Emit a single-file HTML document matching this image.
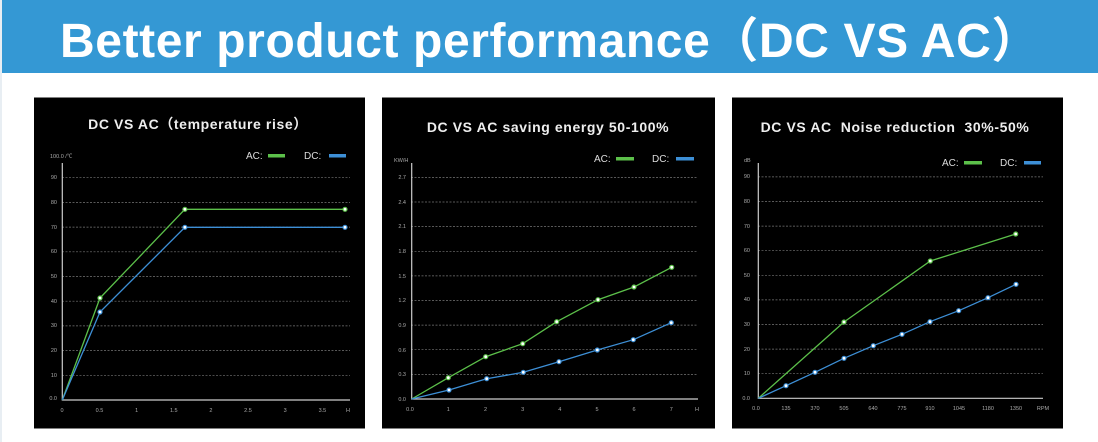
<!DOCTYPE html>
<html><head><meta charset="utf-8"><style>
html,body{margin:0;padding:0;background:#fff;width:1098px;height:442px;overflow:hidden}
svg{display:block}
text{font-family:"Liberation Sans","Noto Sans CJK SC",sans-serif}
.t{font-weight:bold;font-size:14px;fill:#eee;text-anchor:middle;letter-spacing:0.6px}
.k{font-size:5.5px;fill:#aaa}
.kr{font-size:5.5px;fill:#aaa;text-anchor:end}
.km{font-size:5.5px;fill:#aaa;text-anchor:middle}
.lg{font-size:10px;fill:#ddd}
.g line{stroke:#777;stroke-width:0.7;stroke-dasharray:2 1.5}
.ax{stroke:#ccc;stroke-width:1.2;fill:none}
.ac{stroke:#5cc04a;stroke-width:1.3;fill:none}
.dc{stroke:#3d8fd6;stroke-width:1.3;fill:none}
.pa circle{fill:#fff;stroke:#5cc04a;stroke-width:1.2}
.pd circle{fill:#fff;stroke:#3d8fd6;stroke-width:1.2}
</style></head><body>
<svg width="1098" height="442" viewBox="0 0 1098 442">
<rect x="0" y="0" width="1098" height="73" fill="#3498d4"/>
<rect x="0" y="0" width="2" height="442" fill="#e8eef3"/>
<text x="550" y="57" text-anchor="middle" style="font-weight:bold;font-size:48px;fill:#fff;letter-spacing:0.6px">Better product performance（DC VS AC）</text>

<!-- Panel 1 -->
<rect x="34" y="97.5" width="331" height="331" fill="#000"/>
<text class="t" x="198" y="129">DC VS AC（temperature rise）</text>
<text class="lg" x="246" y="159">AC:</text><rect x="268" y="154" width="17" height="3.5" fill="#5cc04a"/>
<text class="lg" x="304" y="159">DC:</text><rect x="329" y="154" width="17" height="3.5" fill="#3d8fd6"/>
<text class="k" x="50" y="158">100.0 /℃</text>
<g class="g"><line x1="62" x2="350" y1="375.3" y2="375.3"/><line x1="62" x2="350" y1="350.6" y2="350.6"/><line x1="62" x2="350" y1="325.9" y2="325.9"/><line x1="62" x2="350" y1="301.2" y2="301.2"/><line x1="62" x2="350" y1="276.5" y2="276.5"/><line x1="62" x2="350" y1="251.8" y2="251.8"/><line x1="62" x2="350" y1="227.1" y2="227.1"/><line x1="62" x2="350" y1="202.4" y2="202.4"/><line x1="62" x2="350" y1="177.7" y2="177.7"/></g>
<text class="kr" x="57" y="400">0.0</text><text class="kr" x="57" y="377">10</text><text class="kr" x="57" y="352">20</text><text class="kr" x="57" y="327">30</text><text class="kr" x="57" y="303">40</text><text class="kr" x="57" y="278">50</text><text class="kr" x="57" y="253">60</text><text class="kr" x="57" y="229">70</text><text class="kr" x="57" y="204">80</text><text class="kr" x="57" y="179">90</text>
<path class="ax" d="M62.3,163 V400 H350"/>
<text class="km" x="62" y="412">0</text><text class="km" x="99.5" y="412">0.5</text><text class="km" x="136.6" y="412">1</text><text class="km" x="173.8" y="412">1.5</text><text class="km" x="210.9" y="412">2</text><text class="km" x="248" y="412">2.5</text><text class="km" x="285.2" y="412">3</text><text class="km" x="322.4" y="412">3.5</text><text class="km" x="348" y="412">H</text>
<polyline class="ac" points="62.3,400 100,298 184.9,209.3 345,209.3"/>
<polyline class="dc" points="62.3,400 100,312 184.9,227.3 345,227.3"/>
<g class="pa"><circle cx="100" cy="298" r="2"/><circle cx="184.9" cy="209.3" r="2"/><circle cx="345" cy="209.3" r="2"/></g>
<g class="pd"><circle cx="100" cy="312" r="2"/><circle cx="184.9" cy="227.3" r="2"/><circle cx="345" cy="227.3" r="2"/></g>

<!-- Panel 2 -->
<rect x="382" y="97.5" width="333" height="331" fill="#000"/>
<text class="t" x="548" y="132">DC VS AC saving energy 50-100%</text>
<text class="lg" x="594" y="162">AC:</text><rect x="616" y="157" width="18" height="3.5" fill="#5cc04a"/>
<text class="lg" x="652" y="162">DC:</text><rect x="676" y="157" width="18" height="3.5" fill="#3d8fd6"/>
<text class="k" x="394" y="162">KW/H</text>
<g class="g"><line x1="411" x2="698" y1="374.4" y2="374.4"/><line x1="411" x2="698" y1="349.7" y2="349.7"/><line x1="411" x2="698" y1="325.1" y2="325.1"/><line x1="411" x2="698" y1="300.5" y2="300.5"/><line x1="411" x2="698" y1="275.9" y2="275.9"/><line x1="411" x2="698" y1="251.3" y2="251.3"/><line x1="411" x2="698" y1="226.6" y2="226.6"/><line x1="411" x2="698" y1="202" y2="202"/><line x1="411" x2="698" y1="177.4" y2="177.4"/></g>
<text class="kr" x="406" y="401">0.0</text><text class="kr" x="406" y="376">0.3</text><text class="kr" x="406" y="352">0.6</text><text class="kr" x="406" y="327">0.9</text><text class="kr" x="406" y="302">1.2</text><text class="kr" x="406" y="278">1.5</text><text class="kr" x="406" y="253">1.8</text><text class="kr" x="406" y="228">2.1</text><text class="kr" x="406" y="204">2.4</text><text class="kr" x="406" y="179">2.7</text>
<path class="ax" d="M411.7,163 V399 H698"/>
<text class="km" x="410" y="411">0.0</text><text class="km" x="448.3" y="411">1</text><text class="km" x="485.5" y="411">2</text><text class="km" x="522.7" y="411">3</text><text class="km" x="559.8" y="411">4</text><text class="km" x="597" y="411">5</text><text class="km" x="634" y="411">6</text><text class="km" x="671.3" y="411">7</text><text class="km" x="697" y="411">H</text>
<polyline class="ac" points="411.7,399 448.3,377.7 485.7,356.7 522.7,343.7 556.7,321.7 598,299.7 634,287 671.7,267.3"/>
<polyline class="dc" points="411.7,399 449,390 486.7,378.7 523.3,372.3 559,361.7 597.3,350 633.3,339.7 671.3,322.7"/>
<g class="pa"><circle cx="448.3" cy="377.7" r="2"/><circle cx="485.7" cy="356.7" r="2"/><circle cx="522.7" cy="343.7" r="2"/><circle cx="556.7" cy="321.7" r="2"/><circle cx="598" cy="299.7" r="2"/><circle cx="634" cy="287" r="2"/><circle cx="671.7" cy="267.3" r="2"/></g>
<g class="pd"><circle cx="449" cy="390" r="2"/><circle cx="486.7" cy="378.7" r="2"/><circle cx="523.3" cy="372.3" r="2"/><circle cx="559" cy="361.7" r="2"/><circle cx="597.3" cy="350" r="2"/><circle cx="633.3" cy="339.7" r="2"/><circle cx="671.3" cy="322.7" r="2"/></g>

<!-- Panel 3 -->
<rect x="732" y="97.5" width="331" height="331" fill="#000"/>
<text class="t" x="895" y="132" style="white-space:pre">DC VS AC  Noise reduction  30%-50%</text>
<text class="lg" x="942" y="166">AC:</text><rect x="964" y="161" width="18" height="3.5" fill="#5cc04a"/>
<text class="lg" x="1000" y="166">DC:</text><rect x="1024" y="161" width="17" height="3.5" fill="#3d8fd6"/>
<text class="k" x="744" y="162">dB</text>
<g class="g"><line x1="758" x2="1043" y1="373.7" y2="373.7"/><line x1="758" x2="1043" y1="349.1" y2="349.1"/><line x1="758" x2="1043" y1="324.5" y2="324.5"/><line x1="758" x2="1043" y1="299.9" y2="299.9"/><line x1="758" x2="1043" y1="275.3" y2="275.3"/><line x1="758" x2="1043" y1="250.7" y2="250.7"/><line x1="758" x2="1043" y1="226.1" y2="226.1"/><line x1="758" x2="1043" y1="201.5" y2="201.5"/><line x1="758" x2="1043" y1="176.9" y2="176.9"/></g>
<text class="kr" x="750" y="400">0.0</text><text class="kr" x="750" y="375">10</text><text class="kr" x="750" y="351">20</text><text class="kr" x="750" y="326">30</text><text class="kr" x="750" y="301">40</text><text class="kr" x="750" y="277">50</text><text class="kr" x="750" y="252">60</text><text class="kr" x="750" y="228">70</text><text class="kr" x="750" y="203">80</text><text class="kr" x="750" y="178">90</text>
<path class="ax" d="M758.3,163 V398.3 H1043"/>
<text class="km" x="756" y="410">0.0</text><text class="km" x="786" y="410">135</text><text class="km" x="815" y="410">370</text><text class="km" x="844" y="410">505</text><text class="km" x="873" y="410">640</text><text class="km" x="902" y="410">775</text><text class="km" x="930" y="410">910</text><text class="km" x="959" y="410">1045</text><text class="km" x="988" y="410">1180</text><text class="km" x="1016" y="410">1350</text><text class="km" x="1043" y="410">RPM</text>
<polyline class="ac" points="758.3,398.3 844,322 930.3,261 1015.7,234"/>
<polyline class="dc" points="758.3,398.3 786,385.7 815,372.3 844,358.3 873.3,345.7 902,334.3 930,321.7 958.7,310.7 988,297.7 1016,284.3"/>
<g class="pa"><circle cx="844" cy="322" r="2"/><circle cx="930.3" cy="261" r="2"/><circle cx="1015.7" cy="234" r="2"/></g>
<g class="pd"><circle cx="786" cy="385.7" r="2"/><circle cx="815" cy="372.3" r="2"/><circle cx="844" cy="358.3" r="2"/><circle cx="873.3" cy="345.7" r="2"/><circle cx="902" cy="334.3" r="2"/><circle cx="930" cy="321.7" r="2"/><circle cx="958.7" cy="310.7" r="2"/><circle cx="988" cy="297.7" r="2"/><circle cx="1016" cy="284.3" r="2"/></g>
</svg>
</body></html>
